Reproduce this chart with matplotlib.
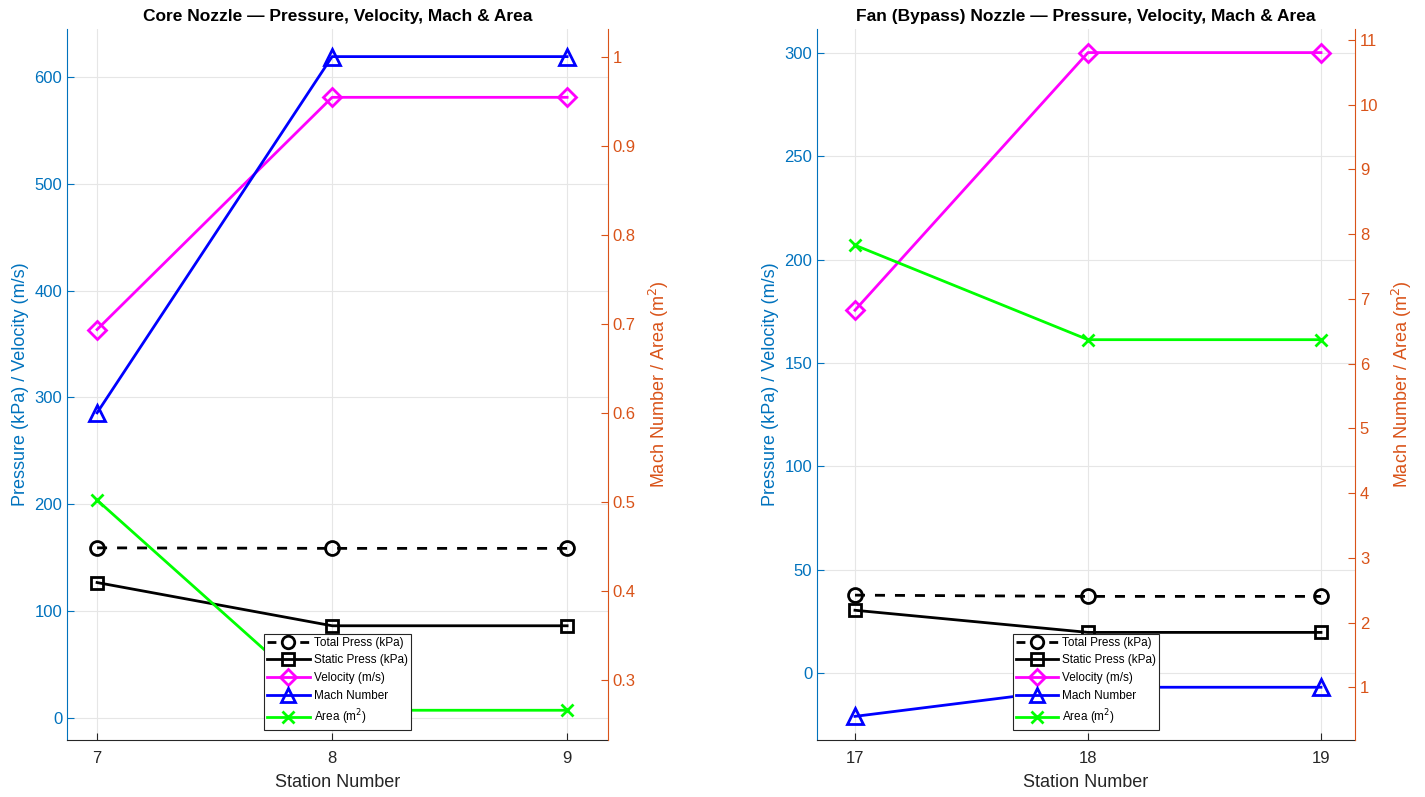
import matplotlib
matplotlib.use("Agg")
import matplotlib.pyplot as plt
from matplotlib.legend_handler import HandlerLine2D

plt.rcParams['font.family'] = ['Liberation Sans', 'DejaVu Sans']

# ---- data ----
core_stations = [7, 8, 9]
core_total = [159.0, 158.5, 158.5]
core_static = [126.5, 86.0, 86.0]
core_vel = [363.5, 581.0, 581.0]
core_mach = [0.60, 1.0, 1.0]
core_area = [0.502, 0.266, 0.266]

fan_stations = [17, 18, 19]
fan_total = [37.8, 37.2, 37.2]
fan_static = [30.5, 19.8, 19.8]
fan_vel = [175.5, 300.0, 300.0]
fan_mach = [0.55, 1.0, 1.0]
fan_area = [7.83, 6.37, 6.37]

core_left_ticks = [0, 100, 200, 300, 400, 500, 600]
core_right_ticks = [0.3, 0.4, 0.5, 0.6, 0.7, 0.8, 0.9, 1.0]
fan_left_ticks = [0, 50, 100, 150, 200, 250, 300]
fan_right_ticks = [1, 2, 3, 4, 5, 6, 7, 8, 9, 10, 11]

titles = ["Core Nozzle \u2014 Pressure, Velocity, Mach & Area",
          "Fan (Bypass) Nozzle \u2014 Pressure, Velocity, Mach & Area"]

LEFT_C = '#0072BD'
RIGHT_C = '#D95319'
AX_C = '#262626'
GRID_C = '#E6E6E6'

fig = plt.figure(figsize=(14.25, 7.97), dpi=100)

specs = [
    dict(rect=[67/1425, 1-740/797, 541/1425, 711/797], st=core_stations,
         tot=core_total, sta=core_static, vel=core_vel, mach=core_mach, area=core_area,
         xlim=(6.872, 9.174), ylim=(-21, 645), y2lim=(0.2326, 1.031),
         lt=core_left_ticks, rt=core_right_ticks, title=titles[0]),
    dict(rect=[817/1425, 1-740/797, 538/1425, 711/797], st=fan_stations,
         tot=fan_total, sta=fan_static, vel=fan_vel, mach=fan_mach, area=fan_area,
         xlim=(16.837, 19.146), ylim=(-32.2, 311.4), y2lim=(0.185, 11.17),
         lt=fan_left_ticks, rt=fan_right_ticks, title=titles[1]),
]

lw = 2.0
ms = 10
mew = 2.0


def dashed_legend(legline, orig):
    legline.update_from(orig)
    legline.set_linestyle((0, (3.2, 8.6)))


for s in specs:
    ax = fig.add_axes(s['rect'])
    ax2 = ax.twinx()
    h1, = ax.plot(s['st'], s['tot'], color='k', lw=lw, linestyle='--', dashes=(3.6, 3.6),
                  marker='o', ms=ms, mfc='none', mew=mew, label='Total Press (kPa)')
    h2, = ax.plot(s['st'], s['sta'], color='k', lw=lw, marker='s', ms=ms-1, mfc='none',
                  mew=mew, label='Static Press (kPa)')
    h3, = ax.plot(s['st'], s['vel'], color='#FF00FF', lw=lw, marker='D', ms=ms-1, mfc='none',
                  mew=mew, label='Velocity (m/s)')
    h4, = ax2.plot(s['st'], s['mach'], color='#0000FF', lw=lw, marker='^', ms=ms+1, mfc='none',
                   mew=mew, label='Mach Number')
    h5, = ax2.plot(s['st'], s['area'], color='#00FF00', lw=lw, marker='x', ms=ms-1,
                   mew=mew, label='Area (m$^2$)')

    ax.set_xlim(*s['xlim'])
    ax.set_ylim(*s['ylim'])
    ax2.set_ylim(*s['y2lim'])
    ax.set_xticks(s['st'])
    ax.set_xticklabels([str(v) for v in s['st']])
    ax.set_yticks(s['lt'])
    ax.set_yticklabels(['%g' % v for v in s['lt']])
    ax2.set_yticks(s['rt'])
    ax2.set_yticklabels(['%g' % v for v in s['rt']])

    ax.grid(True, color=GRID_C, linewidth=0.8)
    ax.set_axisbelow(True)

    for a in (ax, ax2):
        a.spines['top'].set_visible(False)
    ax.spines['right'].set_visible(False)
    ax2.spines['left'].set_visible(False)
    ax2.spines['bottom'].set_visible(False)
    ax.spines['left'].set_color(LEFT_C)
    ax2.spines['right'].set_color(RIGHT_C)
    ax.spines['bottom'].set_color(AX_C)

    ax.tick_params(axis='y', direction='in', colors=LEFT_C, labelsize=12, length=5)
    ax.tick_params(axis='x', direction='in', colors=AX_C, labelsize=12, length=5, pad=8)
    ax2.tick_params(axis='y', direction='in', colors=RIGHT_C, labelsize=12, length=5)

    ax.set_xlabel('Station Number', fontsize=13, color=AX_C, labelpad=6)
    ax.set_ylabel('Pressure (kPa) / Velocity (m/s)', fontsize=13, color=LEFT_C)
    ax2.set_ylabel('Mach Number / Area (m$^2$)', fontsize=13, color=RIGHT_C, labelpad=8)
    ax.set_title(s['title'], fontsize=12.5, fontweight='bold', color='k', pad=6)

    ax2.set_zorder(ax.get_zorder() + 1)
    ax2.patch.set_visible(False)
    leg = ax2.legend(handles=[h1, h2, h3, h4, h5], loc='lower center',
                     bbox_to_anchor=(0.5, 0.014), fontsize=8.5, frameon=True,
                     fancybox=False, edgecolor='#262626', framealpha=1,
                     handlelength=3.6, handletextpad=0.35, borderpad=0.25,
                     labelspacing=0.48, borderaxespad=0, markerscale=0.9,
                     handler_map={h1: HandlerLine2D(update_func=dashed_legend)})
    leg.get_frame().set_linewidth(0.8)

fig.savefig('out.png', dpi=100)
